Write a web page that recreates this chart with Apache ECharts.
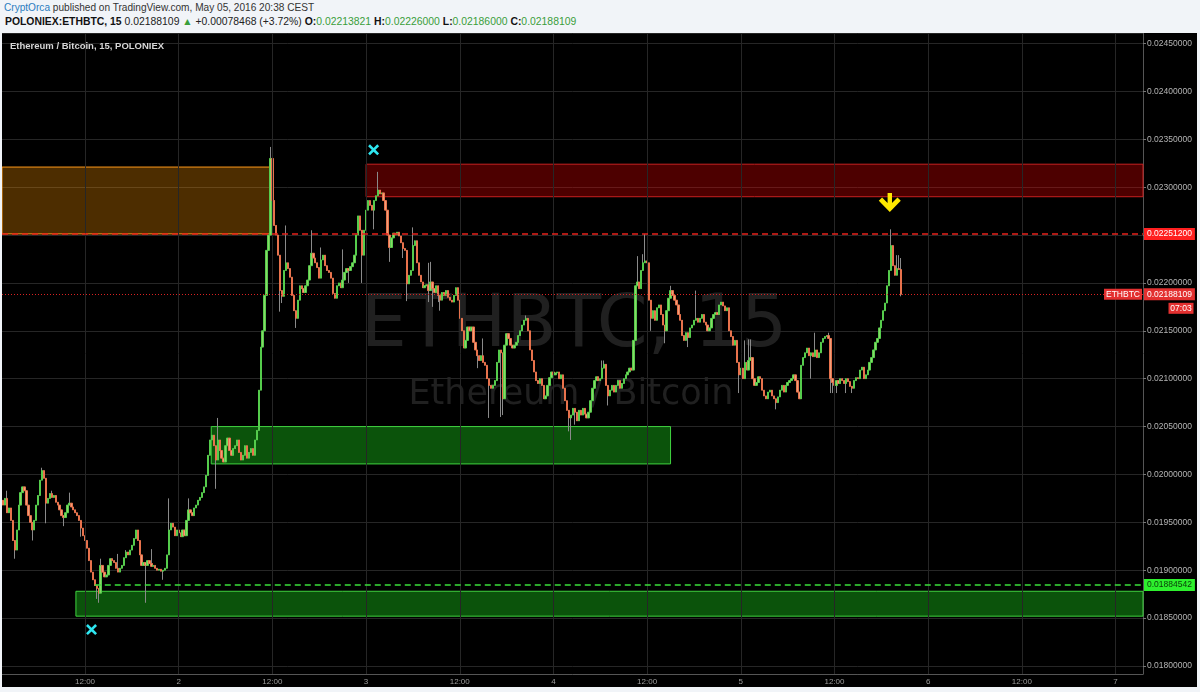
<!DOCTYPE html>
<html>
<head>
<meta charset="utf-8">
<script src="https://cdn.jsdelivr.net/npm/echarts@6.0.0/dist/echarts.min.js"></script>
<style>
  html, body { margin: 0; padding: 0; }
  body { width: 1200px; height: 692px; background: #f1f4f8; overflow: hidden; position: relative; font-family: "Liberation Sans", Arial, sans-serif; }
  #h1 { position: absolute; left: 4px; top: 2px; font-size: 10.1px; color: #333; white-space: nowrap; }
  #h2 { position: absolute; left: 5px; top: 16px; font-size: 10.4px; color: #222; white-space: nowrap; }
  #h2 .g { color: #3a9e3a; }
  #h2 b { color: #111; }
  #chart { position: absolute; left: 2px; top: 33px; width: 1195px; height: 654px; background: #000; }
</style>
</head>
<body>
<div id="h1"><span style="color:#2c7dbf">CryptOrca</span> published on TradingView.com, May 05, 2016 20:38 CEST</div>
<div id="h2"><b>POLONIEX:ETHBTC, 15</b> 0.02188109 <span class="g">▲</span> +0.00078468 (+3.72%) <b>O:</b><span class="g">0.02213821</span> <b>H:</b><span class="g">0.02226000</span> <b>L:</b><span class="g">0.02186000</span> <b>C:</b><span class="g">0.02188109</span></div>
<div id="chart"></div>
<script>
// ---------- data ----------
const candleStart = '2016-05-01T01:30:00Z';
const candleStepMinutes = 15;
const firstOpen = 0.01973;
const closes = [
0.01968,0.01975,0.01960,0.01965,0.01952,0.01931,0.01921,0.01942,0.01968,0.01981,
0.01987,0.01983,0.01968,0.01957,0.01950,0.01942,0.01952,0.01968,0.01978,0.01994,
0.02004,0.01996,0.01970,0.01975,0.01980,0.01976,0.01978,0.01971,0.01968,0.01963,
0.01957,0.01955,0.01960,0.01968,0.01970,0.01966,0.01963,0.01960,0.01957,0.01952,
0.01944,0.01936,0.01931,0.01923,0.01910,0.01898,0.01890,0.01884,0.01881,0.01876,
0.01905,0.01898,0.01893,0.01895,0.01905,0.01912,0.01910,0.01908,0.01902,0.01898,
0.01902,0.01905,0.01913,0.01919,0.01916,0.01921,0.01926,0.01933,0.01942,0.01931,
0.01916,0.01905,0.01908,0.01905,0.01910,0.01907,0.01904,0.01905,0.01902,0.01900,
0.01901,0.01899,0.01900,0.01902,0.01916,0.01942,0.01949,0.01945,0.01936,0.01942,
0.01939,0.01935,0.01942,0.01936,0.01952,0.01963,0.01960,0.01957,0.01965,0.01968,
0.01973,0.01976,0.01981,0.01987,0.01999,0.02020,0.02036,0.02041,0.02030,0.02015,
0.02036,0.02025,0.02017,0.02013,0.02030,0.02038,0.02025,0.02020,0.02027,0.02030,
0.02036,0.02023,0.02015,0.02020,0.02030,0.02017,0.02023,0.02027,0.02020,0.02036,
0.02046,0.02088,0.02133,0.02150,0.02187,0.02234,0.02250,0.02330,0.02286,0.02260,
0.02250,0.02229,0.02192,0.02186,0.02213,0.02221,0.02215,0.02206,0.02187,0.02171,
0.02163,0.02182,0.02197,0.02194,0.02190,0.02197,0.02203,0.02218,0.02231,0.02226,
0.02221,0.02216,0.02205,0.02224,0.02229,0.02218,0.02213,0.02211,0.02205,0.02189,
0.02184,0.02197,0.02200,0.02195,0.02203,0.02211,0.02215,0.02213,0.02217,0.02221,
0.02229,0.02250,0.02270,0.02255,0.02229,0.02255,0.02276,0.02286,0.02281,0.02276,
0.02286,0.02291,0.02297,0.02293,0.02294,0.02286,0.02276,0.02250,0.02237,0.02247,
0.02252,0.02250,0.02253,0.02249,0.02242,0.02236,0.02234,0.02199,0.02208,0.02213,
0.02239,0.02244,0.02221,0.02208,0.02201,0.02195,0.02197,0.02198,0.02192,0.02201,
0.02194,0.02190,0.02197,0.02187,0.02182,0.02190,0.02187,0.02192,0.02185,0.02182,
0.02180,0.02187,0.02195,0.02182,0.02163,0.02150,0.02132,0.02140,0.02154,0.02150,
0.02154,0.02138,0.02130,0.02124,0.02119,0.02124,0.02117,0.02114,0.02100,0.02093,
0.02090,0.02093,0.02098,0.02117,0.02130,0.02127,0.02079,0.02135,0.02147,0.02142,
0.02135,0.02132,0.02135,0.02138,0.02145,0.02150,0.02156,0.02161,0.02163,0.02150,
0.02130,0.02119,0.02107,0.02098,0.02095,0.02100,0.02093,0.02079,0.02082,0.02093,
0.02101,0.02107,0.02104,0.02106,0.02107,0.02100,0.02104,0.02090,0.02077,0.02067,
0.02059,0.02062,0.02069,0.02065,0.02056,0.02067,0.02062,0.02069,0.02063,0.02059,
0.02065,0.02077,0.02090,0.02098,0.02102,0.02098,0.02100,0.02111,0.02115,0.02093,
0.02082,0.02088,0.02093,0.02086,0.02093,0.02098,0.02090,0.02095,0.02100,0.02104,
0.02107,0.02111,0.02109,0.02140,0.02197,0.02201,0.02194,0.02213,0.02221,0.02223,
0.02221,0.02182,0.02163,0.02171,0.02161,0.02174,0.02177,0.02167,0.02156,0.02150,
0.02171,0.02184,0.02192,0.02187,0.02182,0.02177,0.02167,0.02161,0.02145,0.02140,
0.02148,0.02143,0.02153,0.02156,0.02161,0.02163,0.02159,0.02163,0.02167,0.02159,
0.02156,0.02150,0.02153,0.02163,0.02167,0.02169,0.02167,0.02177,0.02180,0.02176,
0.02171,0.02174,0.02150,0.02144,0.02135,0.02140,0.02117,0.02104,0.02111,0.02100,
0.02117,0.02109,0.02119,0.02122,0.02100,0.02093,0.02096,0.02102,0.02100,0.02088,
0.02082,0.02079,0.02086,0.02088,0.02082,0.02079,0.02075,0.02081,0.02088,0.02093,
0.02086,0.02093,0.02096,0.02098,0.02100,0.02104,0.02098,0.02086,0.02079,0.02114,
0.02122,0.02127,0.02132,0.02124,0.02127,0.02123,0.02130,0.02122,0.02127,0.02138,
0.02142,0.02144,0.02145,0.02142,0.02100,0.02096,0.02093,0.02098,0.02095,0.02100,
0.02098,0.02095,0.02100,0.02097,0.02092,0.02090,0.02098,0.02101,0.02100,0.02109,
0.02112,0.02100,0.02104,0.02109,0.02117,0.02122,0.02130,0.02138,0.02142,0.02153,
0.02161,0.02171,0.02179,0.02197,0.02213,0.02239,0.02218,0.02208,0.02215,0.02214,
0.02188109
];
// wick extremes: [candle index, price]
const wickHighs = [[2,0.01983],[20,0.02007],[25,0.01983],[34,0.01981],[50,0.01912],[59,0.01917],[63,0.01921],[76,0.01922],[85,0.01975],[95,0.01975],[110,0.02059],[137,0.02342],[145,0.02260],[158,0.02255],[163,0.02237],[174,0.02235],[192,0.02316],[210,0.02258],[218,0.02221],[219,0.02222],[246,0.02142],[268,0.02166],[307,0.02119],[308,0.02119],[325,0.02228],[328,0.02230],[329,0.02251],[342,0.02197],[355,0.02192],[380,0.02140],[382,0.02141],[383,0.02141],[416,0.02148],[423,0.02148],[455,0.02256],[456,0.02227],[458,0.02229],[459,0.02229],[460,0.02226]];
const wickLows = [[6,0.01912],[15,0.01931],[22,0.01949],[31,0.01946],[40,0.01935],[48,0.01870],[49,0.01866],[73,0.01866],[82,0.01890],[109,0.01985],[142,0.02170],[143,0.02179],[150,0.02153],[177,0.02200],[184,0.02200],[190,0.02256],[198,0.02222],[205,0.02226],[207,0.02181],[218,0.02180],[220,0.02175],[223,0.02180],[224,0.02171],[243,0.02111],[249,0.02059],[255,0.02060],[256,0.02062],[290,0.02045],[291,0.02036],[293,0.02052],[310,0.02072],[332,0.02150],[339,0.02137],[351,0.02133],[377,0.02085],[396,0.02068],[414,0.02100],[424,0.02085],[425,0.02085],[427,0.02085],[432,0.02085],[435,0.02085],[460,0.02186]];

// axis extents and tick labels
const axisStart = '2016-05-01T01:22:00Z';
const axisEnd = '2016-05-07T03:31:00Z';
const xTickTimes = ['2016-05-01T12:00:00Z','2016-05-02T00:00:00Z','2016-05-02T12:00:00Z','2016-05-03T00:00:00Z','2016-05-03T12:00:00Z','2016-05-04T00:00:00Z','2016-05-04T12:00:00Z','2016-05-05T00:00:00Z','2016-05-05T12:00:00Z','2016-05-06T00:00:00Z','2016-05-06T12:00:00Z','2016-05-07T00:00:00Z'];
const priceMin = 0.017916;
const priceMax = 0.02461;
const priceDecimals = 8;

// drawn zones: [from, to, low, high]
const zoneSupplyOrange = ['2016-05-01T01:22:00Z', '2016-05-02T11:50:00Z', 0.022512, 0.02321];
const zoneResistRed = ['2016-05-03T00:00:00Z', '2016-05-07T03:31:00Z', 0.02290, 0.02324];
const zoneDemandUpper = ['2016-05-02T04:10:00Z', '2016-05-04T15:00:00Z', 0.02011, 0.02050];
const zoneDemandLower = ['2016-05-01T10:50:00Z', '2016-05-07T03:31:00Z', 0.01852, 0.01878];

// horizontal levels
const levelResistance = 0.022512;
const levelSupport = 0.01884542;
const levelSupportFrom = '2016-05-01T13:15:00Z';
const lastPrice = 0.02188109;
const countdownText = '07:03';
const symbolText = 'ETHBTC';

// markers: [time, price]
const crossMarks = [['2016-05-03T00:58:00Z', 0.02339], ['2016-05-01T12:50:00Z', 0.01838]];
const arrowMark = ['2016-05-05T19:05:00Z', 0.02284];

const watermarkMain = 'ETHBTC, 15';
const watermarkSub = 'Ethereum / Bitcoin';
const legendText = 'Ethereum / Bitcoin, 15, POLONIEX';

// ---------- build ----------
const t0 = Date.parse(candleStart);
const step = candleStepMinutes * 60000;
const hiMap = new Map(wickHighs);
const loMap = new Map(wickLows);
const wickData = [];
const bodyData = [];
closes.forEach((c, i) => {
  const o = i === 0 ? firstOpen : closes[i - 1];
  const t = t0 + i * step;
  const top = Math.max(o, c), bot = Math.min(o, c);
  const hi = hiMap.has(i) ? Math.max(hiMap.get(i), top) : top;
  const lo = loMap.has(i) ? Math.min(loMap.get(i), bot) : bot;
  wickData.push([t, o, c, lo, hi]);
  bodyData.push([t, o, c, bot, top]);
});
const ms = s => Date.parse(s);
const FONT = '"Liberation Sans", Arial, sans-serif';
const fmtP = v => Number(v).toFixed(priceDecimals);
const xTicks = xTickTimes.map(ms);

function zone(z, fill, border) {
  return [
    { xAxis: ms(z[0]), yAxis: z[2], itemStyle: { color: fill, borderColor: border, borderWidth: 1 } },
    { xAxis: ms(z[1]), yAxis: z[3] }
  ];
}
const tagLabel = (value, bg, fg) => ({
  show: true, position: 'end', distance: 1, formatter: fmtP(value),
  backgroundColor: bg, color: fg, fontSize: 8.5, fontFamily: FONT, padding: [2, 3, 1, 3]
});
const gridLineStyle = { color: '#262626', type: 'solid', width: 1 };
const verticalGrid = xTicks.map(t => ({ xAxis: t, lineStyle: gridLineStyle, label: { show: false } }));

const chart = echarts.init(document.getElementById('chart'), null, { renderer: 'canvas' });
chart.setOption({
  animation: false,
  backgroundColor: '#000',
  grid: { left: 0, right: 54, top: 0, bottom: 13, containLabel: false },
  xAxis: {
    type: 'value', min: ms(axisStart), max: ms(axisEnd), scale: true,
    axisLine: { show: true, onZero: false, lineStyle: { color: '#555', width: 1 } },
    axisTick: { show: false, customValues: xTicks },
    splitLine: { show: false },
    axisLabel: {
      customValues: xTicks,
      color: '#9c9c9c', fontSize: 8, fontFamily: FONT, margin: 4,
      formatter: v => { const d = new Date(v); return d.getUTCHours() === 12 ? '12:00' : String(d.getUTCDate()); }
    }
  },
  yAxis: {
    type: 'value', position: 'right', min: priceMin, max: priceMax, splitNumber: 13,
    axisLine: { show: true, lineStyle: { color: '#555', width: 1 } },
    axisTick: { show: true, length: 3, lineStyle: { color: '#777' } },
    splitLine: { show: true, lineStyle: { color: '#262626', width: 1 } },
    axisLabel: { color: '#b4b4b4', fontSize: 8.5, fontFamily: FONT, margin: 4, showMinLabel: false, showMaxLabel: false, formatter: fmtP }
  },
  graphic: [
    { type: 'text', x: 572, y: 294, z: -10, silent: true, style: { text: watermarkMain, font: '73px "DejaVu Sans"', fill: '#202020', align: 'center', verticalAlign: 'middle' } },
    { type: 'text', x: 569, y: 362, z: -10, silent: true, style: { text: watermarkSub, font: '35px "DejaVu Sans"', fill: '#202020', align: 'center', verticalAlign: 'middle' } },
    { type: 'text', x: 8, y: 13, z: 50, silent: true, style: { text: legendText, font: 'bold 9.5px "Liberation Sans"', fill: '#d6d6d6', align: 'left', verticalAlign: 'middle' } }
  ],
  series: [
    {
      type: 'candlestick', name: 'wicks', z: 2, silent: true, barWidth: 1,
      encode: { x: 0, y: [1, 2, 3, 4] },
      data: wickData,
      itemStyle: { color: '#8a8a8a', color0: '#8a8a8a', borderColor: '#8a8a8a', borderColor0: '#8a8a8a', borderWidth: 1 },
      markLine: { silent: true, symbol: 'none', data: verticalGrid },
      markArea: {
        silent: true,
        data: [
          zone(zoneSupplyOrange, 'rgba(255,150,0,0.30)', '#ff9a1a'),
          zone(zoneResistRed, 'rgba(255,0,0,0.30)', '#c92020'),
          zone(zoneDemandUpper, 'rgba(30,230,30,0.36)', '#3fd23f'),
          zone(zoneDemandLower, 'rgba(30,230,30,0.36)', '#3fd23f')
        ]
      }
    },
    {
      type: 'candlestick', name: 'ETHBTC', z: 3, silent: true, barWidth: 1.8,
      encode: { x: 0, y: [1, 2, 3, 4] },
      data: bodyData,
      itemStyle: { color: '#8ad866', color0: '#eea07a', borderColor: '#55cc4c', borderColor0: '#e8724c', borderWidth: 1 },
      markLine: {
        silent: true, symbol: 'none', precision: 8,
        data: [
          { yAxis: levelResistance, lineStyle: { color: '#e6231c', type: [6, 4], width: 1.5 }, label: tagLabel(levelResistance, '#ff2020', '#ffffff') },
          [
            { coord: [ms(levelSupportFrom), levelSupport], lineStyle: { color: '#3ae03a', type: [6, 4], width: 1.5 }, label: tagLabel(levelSupport, '#2df02d', '#0a3a0a') },
            { coord: [ms(axisEnd), levelSupport] }
          ],
          { yAxis: lastPrice, lineStyle: { color: '#d82222', type: [1, 2], width: 1 }, label: tagLabel(lastPrice, '#e33030', '#ffffff') }
        ]
      },
      markPoint: {
        silent: true,
        data: [
          { coord: [ms(crossMarks[0][0]), crossMarks[0][1]], symbol: 'path://M2,0 L6,4 L10,0 L12,2 L8,6 L12,10 L10,12 L6,8 L2,12 L0,10 L4,6 L0,2 Z', symbolSize: 11, itemStyle: { color: '#2ee6f0' }, label: { show: false } },
          { coord: [ms(crossMarks[1][0]), crossMarks[1][1]], symbol: 'path://M2,0 L6,4 L10,0 L12,2 L8,6 L12,10 L10,12 L6,8 L2,12 L0,10 L4,6 L0,2 Z', symbolSize: 11, itemStyle: { color: '#2ee6f0' }, label: { show: false } },
          { coord: [ms(arrowMark[0]), arrowMark[1]], symbol: 'path://M8,0 L12,0 L12,9 L17,4 L20,7 L10,17 L0,7 L3,4 L8,9 Z', symbolSize: [22, 19], itemStyle: { color: '#ffe800' }, label: { show: false } },
          { coord: [ms(axisEnd), lastPrice], symbol: 'rect', symbolSize: [38, 11], symbolOffset: [-20, 0], itemStyle: { color: '#e33030' },
            label: { show: true, position: 'inside', formatter: symbolText, color: '#fff', fontSize: 8.5, fontFamily: FONT } },
          { coord: [ms(axisEnd), lastPrice], symbol: 'rect', symbolSize: [25, 11], symbolOffset: [38, 14], itemStyle: { color: '#e33030' },
            label: { show: true, position: 'inside', formatter: countdownText, color: '#fff', fontSize: 8.5, fontFamily: FONT } }
        ]
      }
    }
  ]
});
</script>
</body>
</html>
